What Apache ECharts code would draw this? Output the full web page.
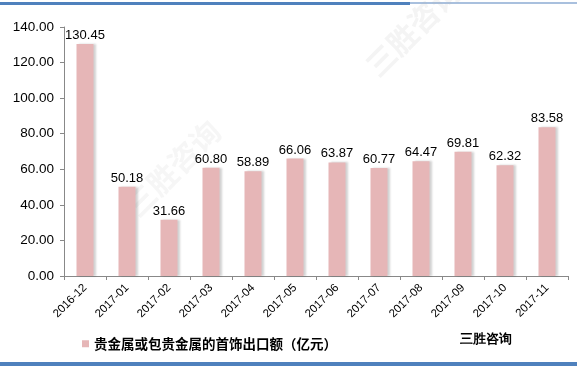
<!DOCTYPE html>
<html><head><meta charset="utf-8">
<script src="https://cdn.jsdelivr.net/npm/echarts@6/dist/echarts.min.js"></script>
<style>html,body{margin:0;padding:0;background:#fff}#c{width:577px;height:368px}</style>
</head><body><div id="c"></div>
<script>
var categories = ['2016-12','2017-01','2017-02','2017-03','2017-04','2017-05','2017-06','2017-07','2017-08','2017-09','2017-10','2017-11'];
var values = [130.45,50.18,31.66,60.80,58.89,66.06,63.87,60.77,64.47,69.81,62.32,83.58];
var seriesName = '贵金属或包贵金属的首饰出口额（亿元）';
var sourceText = '三胜咨询';
var chart = echarts.init(document.getElementById('c'));
var font = '"Microsoft YaHei","Noto Sans CJK SC",sans-serif';
chart.setOption({
  animation:false,
  backgroundColor:'#fff',
  grid:{left:64,right:9,top:27,bottom:92,containLabel:false},
  legend:{data:[seriesName],left:77,top:332,itemWidth:7,itemHeight:7,itemGap:6,icon:'rect',
    textStyle:{fontSize:13.5,fontWeight:'bold',color:'#000',fontFamily:font}},
  xAxis:{type:'category',data:categories,
    axisLine:{lineStyle:{color:'#888',width:1}},
    axisTick:{show:true,alignWithLabel:false,length:4,lineStyle:{color:'#888'}},
    axisLabel:{rotate:45,fontSize:11.5,color:'#000',margin:10,fontFamily:'"Liberation Sans",Arial,sans-serif',interval:0}},
  yAxis:{type:'value',min:0,max:140,interval:20,
    axisLine:{show:true,lineStyle:{color:'#888'}},
    axisTick:{show:true,length:4,lineStyle:{color:'#888'}},
    splitLine:{show:false},
    axisLabel:{fontSize:13.5,color:'#000',margin:10,formatter:function(v){return v.toFixed(2);},fontFamily:'"Liberation Sans",Arial,sans-serif'}},
  series:[{name:seriesName,type:'bar',data:values,barWidth:17,
    itemStyle:{color:'#E6B6B7',shadowColor:'rgba(0,0,0,0.18)',shadowOffsetX:2,shadowBlur:2},
    label:{show:true,position:'top',distance:2,fontSize:13,color:'#000',fontFamily:'"Liberation Sans",Arial,sans-serif',
      formatter:function(p){return p.value.toFixed(2);}}}],
  graphic:[
    {type:'rect',shape:{x:0,y:2,width:410,height:3},style:{fill:'#4F81BD'}},
    {type:'rect',shape:{x:410,y:2,width:167,height:2},style:{fill:'#A9C0DE'}},
    {type:'rect',shape:{x:0,y:362,width:577,height:4},style:{fill:'#4F81BD'}},
    {type:'text',left:460,top:333,style:{text:sourceText,fontSize:13,fontWeight:'bold',fill:'#000',font:'bold 13px '+font}},
    {type:'text',x:360,y:60,rotation:Math.PI/4,style:{text:'三胜咨询',font:'bold 30px '+font,fill:'rgba(180,180,180,0.15)'}},
    {type:'text',x:120,y:200,rotation:Math.PI/4,style:{text:'三胜咨询',font:'bold 30px '+font,fill:'rgba(180,180,180,0.12)'}}
  ]
});
</script></body></html>
